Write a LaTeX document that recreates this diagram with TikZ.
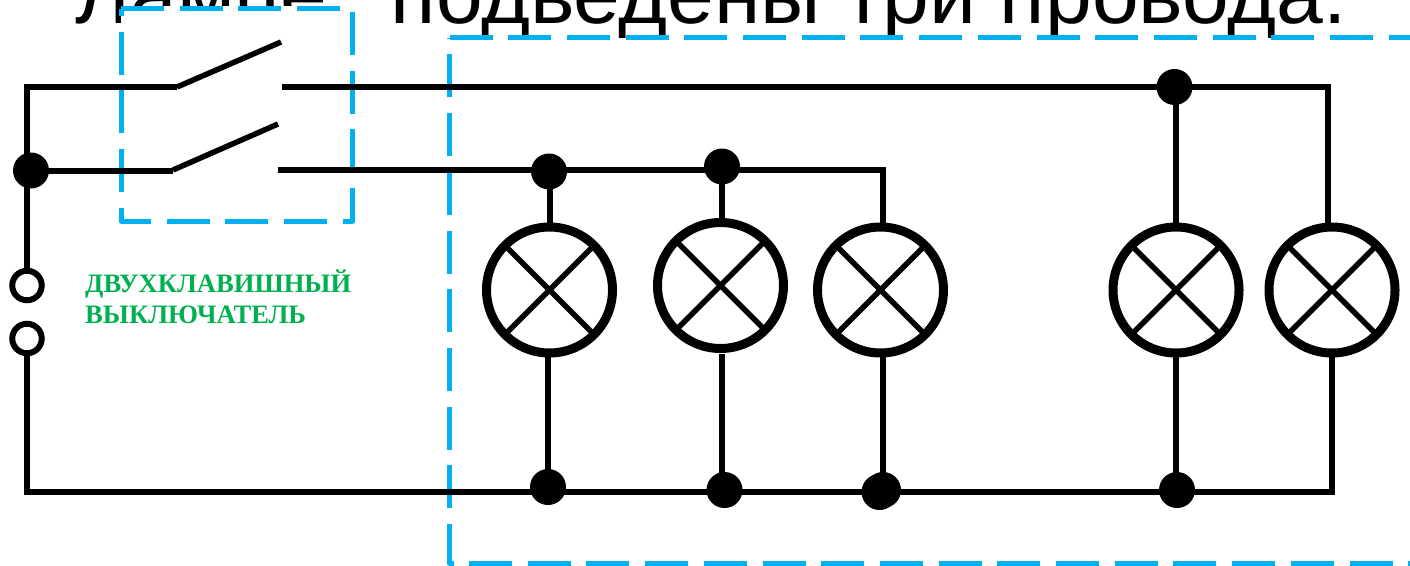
\documentclass[tikz,border=0pt]{standalone}
\usepackage{fontspec}
\setmainfont{Liberation Sans}
\newfontfamily\labelfont{Liberation Serif}
\definecolor{boxblue}{HTML}{00B0F0}
\definecolor{labelgreen}{HTML}{00B050}
\tikzset{
  wire/.style={line width=6pt,black,line cap=butt,line join=miter},
  lever/.style={line width=5.5pt,black},
  frame/.style={line width=5pt,boxblue,dash pattern=on 43pt off 15.7pt,line join=round},
  cover/.style={fill=white,draw=none},
  lamp/.style={circle,draw=black,line width=9pt,minimum size=126pt,inner sep=0pt,outer sep=0pt,
    path picture={\draw[line width=5.5pt] (path picture bounding box.north west)--(path picture bounding box.south east)
      (path picture bounding box.north east)--(path picture bounding box.south west);}},
  junction/.style={circle,fill=black,minimum size=36pt,inner sep=0pt,outer sep=0pt},
  terminal/.style={circle,draw=black,fill=white,line width=6pt,minimum size=29.5pt,inner sep=0pt,outer sep=0pt},
  greenlabel/.style={anchor=base west,inner sep=0pt,text=labelgreen,font=\labelfont\bfseries\fontsize{26.6}{28}\selectfont},
  headline/.style={anchor=base west,inner sep=0pt,font=\fontsize{84}{90}\selectfont}
}
\begin{document}
\begin{tikzpicture}[x=1pt,y=-1pt]
\useasboundingbox (0,0) rectangle (1410,565);
\clip (0,0) rectangle (1410,565);
\fill[white] (0,0) rectangle (1410,565);
% The first word is almost wholly hidden in the reference: "Лампе," is inferred
% from its width and the few visible fragments, not read from the picture.
\node[headline] (head) at (75,23) {Лампе,\hspace{17pt} подведены три провода.};
% white frames hide the lower part of the heading
\fill[cover] (121,6) rectangle (352.5,221);
\fill[cover] (449.5,37.7) rectangle (1420,563);
% dashed frames
\draw[frame] (121,8.5) -- (352.5,8.5) -- (352.5,221) -- (121,221) -- cycle;
\draw[frame] (449.5,37.7) -- (1420,37.7);
\draw[frame] (453.5,563) -- (449.5,563) -- (449.5,37.7);
\draw[frame] (469,563) -- (1420,563);
% lamps
\node[lamp] (l1) at (549.5,290) {};
\node[lamp] (l2) at (720.5,285.5) {};
\node[lamp] (l3) at (880.5,290) {};
\node[lamp] (l4) at (1176,290) {};
\node[lamp] (l5) at (1332,290) {};
% junctions
\node[junction] (jl) at (31,170.5) {};
\node[junction] (ja) at (549,171.5) {};
\node[junction] (jb) at (722,166.5) {};
\node[junction] (jt) at (1174.5,87) {};
\node[junction] (jc) at (548,487) {};
\node[junction] (jd) at (724.5,490) {};
\node[junction] (je) at (879.5,492) {};
\node[junction] (jf) at (883,490) {};
\node[junction] (jg) at (1177,490) {};
% terminals
\node[terminal] (t1) at (27,285.5) {};
\node[terminal] (t2) at (27,338.5) {};
% free wire ends
\coordinate (tl) at (27,87);
\coordinate (s1a) at (177,87);
\coordinate (s1b) at (281,42);
\coordinate (s1c) at (282,87);
\coordinate (tr) at (1328,87);
\coordinate (s2a) at (173,170);
\coordinate (s2b) at (278,124);
\coordinate (s2c) at (278,169.5);
\coordinate (mr) at (883,169.5);
\coordinate (bl) at (27,492);
\coordinate (br) at (1332,492);
\coordinate (st2) at (722,354);
% wiring
\draw[wire] (t1.north) -- (tl) -- (s1a);
\draw[lever] (s1a) -- (s1b);
\draw[wire] (s1c) -- (tr) -- (l5.north -| tr);
\draw[wire] (jl.center) -- (s2a |- jl.center);
\draw[lever] (s2a) -- (s2b);
\draw[wire] (s2c) -- (mr) -- (l3.north -| mr);
\draw[wire] (l1.north |- ja.center) -- (l1.north);
\draw[wire] (jb.center) -- (jb.center |- l2.north);
\draw[wire] (l4.north |- jt.center) -- (l4.north);
\draw[wire] (t2.south) -- (bl) -- (br) -- (l5.south);
\draw[wire] (jc.center |- l1.south) -- (jc.center);
\draw[wire] (st2) -- (st2 |- jd.center);
\draw[wire] (jf.center |- l3.south) -- (jf.center);
\draw[wire] (l4.south) -- (l4.south |- jg);
\node[greenlabel] (lab1) at (85,292) {ДВУХКЛАВИШНЫЙ};
\node[greenlabel] (lab2) at (85,323) {ВЫКЛЮЧАТЕЛЬ};
\end{tikzpicture}
\end{document}
